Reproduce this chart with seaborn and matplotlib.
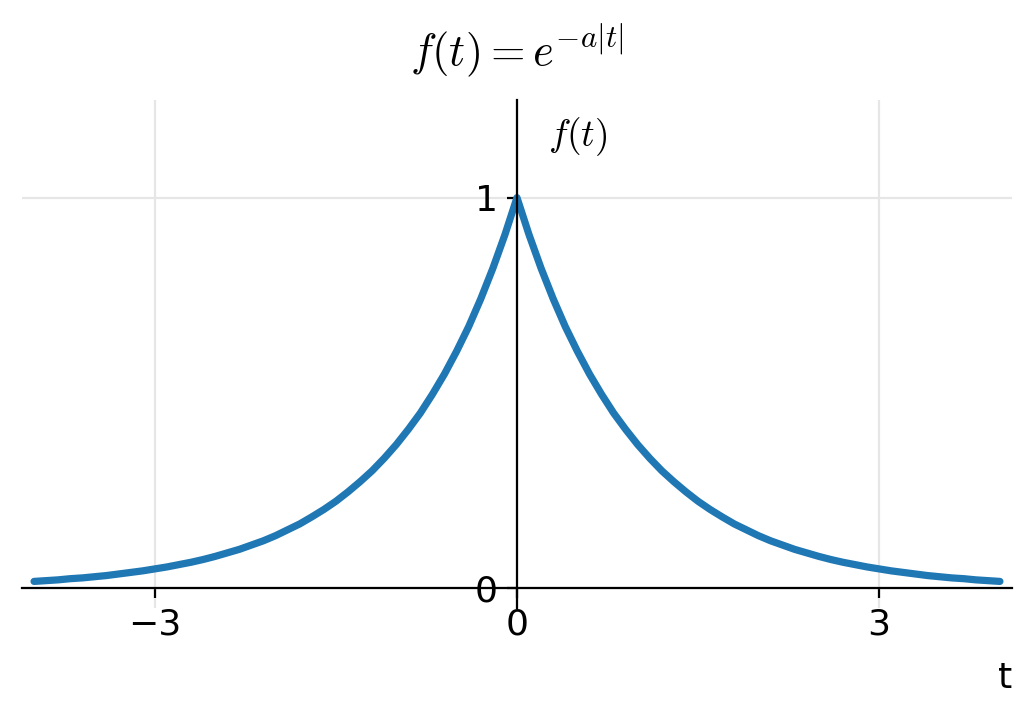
import pandas as pd
import seaborn as sns
import matplotlib.pyplot as plt

t = [-4.0, -3.9, -3.8, -3.7, -3.6, -3.5, -3.4, -3.3, -3.2, -3.1, -3.0,
     -2.9, -2.8, -2.7, -2.6, -2.5, -2.4, -2.3, -2.2, -2.1, -2.0,
     -1.9, -1.8, -1.7, -1.6, -1.5, -1.4, -1.3, -1.2, -1.1, -1.0,
     -0.9, -0.8, -0.7, -0.6, -0.5, -0.4, -0.3, -0.2, -0.1, 0.0,
     0.1, 0.2, 0.3, 0.4, 0.5, 0.6, 0.7, 0.8, 0.9, 1.0,
     1.1, 1.2, 1.3, 1.4, 1.5, 1.6, 1.7, 1.8, 1.9, 2.0,
     2.1, 2.2, 2.3, 2.4, 2.5, 2.6, 2.7, 2.8, 2.9, 3.0,
     3.1, 3.2, 3.3, 3.4, 3.5, 3.6, 3.7, 3.8, 3.9, 4.0]
f = [0.018, 0.020, 0.022, 0.025, 0.027, 0.030, 0.033, 0.037, 0.041, 0.045, 0.050,
     0.055, 0.061, 0.067, 0.074, 0.082, 0.091, 0.100, 0.111, 0.122, 0.135,
     0.150, 0.165, 0.183, 0.202, 0.223, 0.247, 0.273, 0.301, 0.333, 0.368,
     0.407, 0.449, 0.497, 0.549, 0.607, 0.670, 0.741, 0.819, 0.905, 1.000,
     0.905, 0.819, 0.741, 0.670, 0.607, 0.549, 0.497, 0.449, 0.407, 0.368,
     0.333, 0.301, 0.273, 0.247, 0.223, 0.202, 0.183, 0.165, 0.150, 0.135,
     0.122, 0.111, 0.100, 0.091, 0.082, 0.074, 0.067, 0.061, 0.055, 0.050,
     0.045, 0.041, 0.037, 0.033, 0.030, 0.027, 0.025, 0.022, 0.020, 0.018]

x_ticks = [-3, 0, 3]
y_ticks = [0, 1]

df = pd.DataFrame({'t': t, 'f': f})

sns.set_style("white")
plt.rcParams['mathtext.fontset'] = 'cm'

fig = plt.figure(figsize=(5.16, 3.595), dpi=200)
ax = fig.add_axes([0.0213, 0.1544, 0.9593, 0.7066])

sns.lineplot(data=df, x='t', y='f', ax=ax, color='#1f77b4', linewidth=2.6)

ax.set_xlim(-4.1, 4.1)
ax.set_ylim(-0.05, 1.25)

# axes through the origin
ax.spines['left'].set_position(('data', 0))
ax.spines['bottom'].set_position(('data', 0))
ax.spines['top'].set_visible(False)
ax.spines['right'].set_visible(False)
for s in ['left', 'bottom']:
    ax.spines[s].set_color('black')
    ax.spines[s].set_linewidth(0.8)

ax.set_xticks(x_ticks)
ax.set_yticks(y_ticks)
ax.tick_params(bottom=True, left=True, length=3.5, width=0.8, color='black',
               labelcolor='black', labelsize=13)
ax.grid(True, color='#e6e6e6', linewidth=0.8)
ax.set_axisbelow(True)

ax.set_xlabel('t', loc='right', fontsize=13, color='black', labelpad=7)
ax.set_ylabel('')
ax.text(0.26, 1.155, '$f(t)$', ha='left', va='center', fontsize=13.5, color='black')
ax.set_title('$f(t) = e^{-a|t|}$', fontsize=16, color='black', pad=12.5)

fig.savefig('out.png', dpi=200)
